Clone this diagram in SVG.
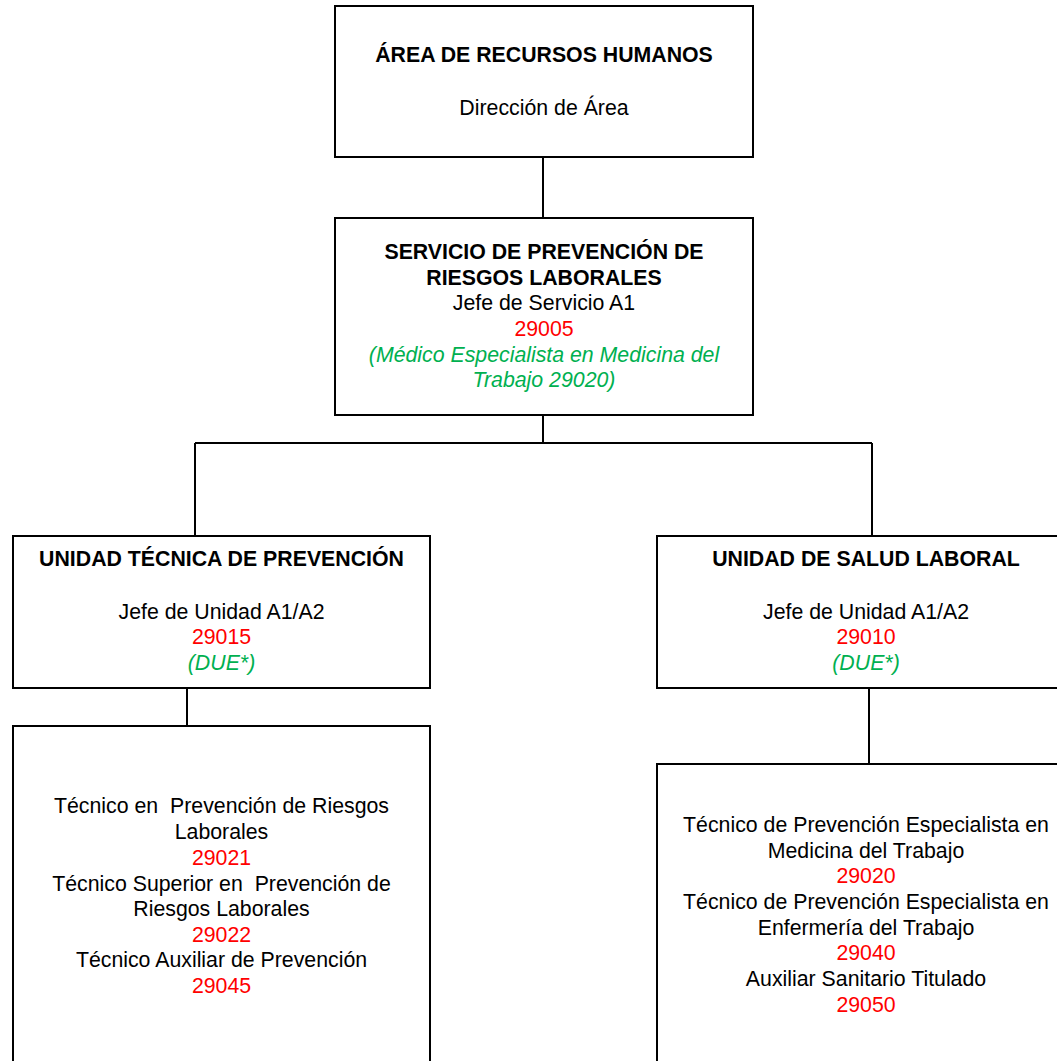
<svg xmlns="http://www.w3.org/2000/svg" width="1057" height="1061" viewBox="0 0 1057 1061">
<style>
.box{fill:#fff;stroke:#000;stroke-width:2}
.con{stroke:#000;stroke-width:2;fill:none}
text{font-family:"Liberation Sans",Arial,sans-serif;font-size:21.3px;text-anchor:middle;fill:#000;white-space:pre}
.b{font-weight:bold}
.r{fill:#ff0000}
.g{fill:#00b050;font-style:italic}
</style>
<rect width="1057" height="1061" fill="#fff"/>
<g id="connectors">
<line class="con" x1="543" y1="157" x2="543" y2="218"/>
<line class="con" x1="543" y1="415" x2="543" y2="443"/>
<line class="con" x1="195" y1="443" x2="872" y2="443"/>
<line class="con" x1="195" y1="443" x2="195" y2="536"/>
<line class="con" x1="872" y1="443" x2="872" y2="536"/>
<line class="con" x1="187" y1="688" x2="187" y2="726"/>
<line class="con" x1="869" y1="688" x2="869" y2="764"/>
</g>
<g id="area-rrhh">
<rect class="box" x="335" y="6" width="418" height="151"/>
<text x="544" y="62" class="b">ÁREA DE RECURSOS HUMANOS</text>
<text x="544" y="115">Dirección de Área</text>
</g>
<g id="servicio-prl">
<rect class="box" x="335" y="218" width="418" height="197"/>
<text x="544" y="259" class="b">SERVICIO DE PREVENCIÓN DE</text>
<text x="544" y="285" class="b">RIESGOS LABORALES</text>
<text x="544" y="310">Jefe de Servicio A1</text>
<text x="544" y="336" class="r">29005</text>
<text x="544" y="362" class="g">(Médico Especialista en Medicina del</text>
<text x="544" y="387" class="g">Trabajo 29020)</text>
</g>
<g id="unidad-tecnica">
<rect class="box" x="13" y="536" width="417" height="152"/>
<text x="221.5" y="566" class="b">UNIDAD TÉCNICA DE PREVENCIÓN</text>
<text x="221.5" y="619">Jefe de Unidad A1/A2</text>
<text x="221.5" y="644" class="r">29015</text>
<text x="221.5" y="670" class="g">(DUE*)</text>
</g>
<g id="unidad-salud">
<rect class="box" x="657" y="536" width="418" height="152"/>
<text x="866" y="566" class="b">UNIDAD DE SALUD LABORAL</text>
<text x="866" y="619">Jefe de Unidad A1/A2</text>
<text x="866" y="644" class="r">29010</text>
<text x="866" y="670" class="g">(DUE*)</text>
</g>
<g id="tecnicos-prevencion">
<rect class="box" x="13" y="726" width="417" height="345"/>
<text x="221.5" y="813">Técnico en  Prevención de Riesgos</text>
<text x="221.5" y="839">Laborales</text>
<text x="221.5" y="865" class="r">29021</text>
<text x="221.5" y="891">Técnico Superior en  Prevención de</text>
<text x="221.5" y="916">Riesgos Laborales</text>
<text x="221.5" y="942" class="r">29022</text>
<text x="221.5" y="967">Técnico Auxiliar de Prevención</text>
<text x="221.5" y="993" class="r">29045</text>
</g>
<g id="tecnicos-salud">
<rect class="box" x="657" y="764" width="418" height="307"/>
<text x="866" y="832">Técnico de Prevención Especialista en</text>
<text x="866" y="858">Medicina del Trabajo</text>
<text x="866" y="883" class="r">29020</text>
<text x="866" y="909">Técnico de Prevención Especialista en</text>
<text x="866" y="935">Enfermería del Trabajo</text>
<text x="866" y="960" class="r">29040</text>
<text x="866" y="986">Auxiliar Sanitario Titulado</text>
<text x="866" y="1012" class="r">29050</text>
</g>
</svg>
